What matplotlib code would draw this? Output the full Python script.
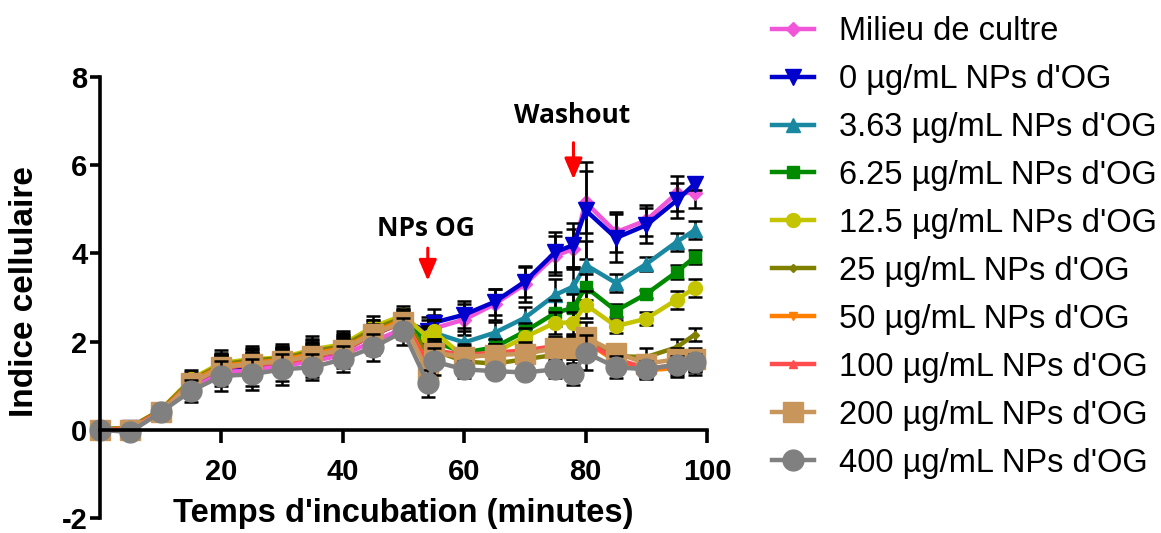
import matplotlib
matplotlib.use("Agg")
import matplotlib.pyplot as plt
import numpy as np

plt.rcParams["font.family"] = ["Liberation Sans", "DejaVu Sans"]
plt.rcParams["axes.unicode_minus"] = False

# time points (minutes)
t = [0, 5, 10, 15, 20, 25, 30, 35, 40, 45, 50, 54, 55,
     60, 65, 70, 75, 78, 80, 85, 90, 95, 98]

milieu = [0, 0.05, 0.40, 1.00, 1.30, 1.35, 1.45, 1.55, 1.70, 2.00, 2.30, 2.20, 2.30,
          2.50, 2.85, 3.30, 3.95, 4.10, 5.16, 4.48, 4.75, 5.36, 5.38]
c0 = [0, 0.05, 0.42, 1.05, 1.40, 1.45, 1.55, 1.65, 1.80, 2.15, 2.45, 2.25, 2.43,
      2.61, 2.90, 3.36, 4.03, 4.19, 4.98, 4.35, 4.64, 5.20, 5.58]
c363 = [0, 0.05, 0.42, 1.05, 1.40, 1.50, 1.55, 1.70, 1.85, 2.20, 2.50, 2.00, 2.20,
        1.98, 2.20, 2.54, 3.06, 3.25, 3.74, 3.33, 3.76, 4.26, 4.53]
c625 = [0, 0.05, 0.43, 1.10, 1.45, 1.55, 1.60, 1.75, 1.90, 2.25, 2.55, 1.90, 2.00,
        1.75, 1.87, 2.23, 2.65, 2.77, 3.24, 2.70, 3.08, 3.58, 3.92]
c125 = [0, 0.06, 0.45, 1.15, 1.52, 1.60, 1.64, 1.82, 1.94, 2.34, 2.60, 2.10, 2.23,
        1.65, 1.75, 2.10, 2.43, 2.43, 2.84, 2.35, 2.52, 2.95, 3.22]
c25 = [0, 0.05, 0.45, 1.12, 1.48, 1.58, 1.62, 1.78, 1.90, 2.28, 2.55, 1.70, 1.80,
       1.55, 1.50, 1.60, 1.70, 1.75, 2.00, 1.67, 1.65, 1.87, 2.16]
c50 = [0, 0.03, 0.42, 1.08, 1.45, 1.52, 1.58, 1.72, 1.85, 2.20, 2.50, 1.50, 1.75,
       1.65, 1.70, 1.75, 1.85, 1.85, 2.00, 1.55, 1.35, 1.40, 1.45]
c100 = [0, 0.03, 0.42, 1.05, 1.40, 1.48, 1.52, 1.65, 1.80, 2.15, 2.45, 1.50, 1.80,
        1.70, 1.75, 1.80, 1.90, 1.90, 2.00, 1.60, 1.40, 1.45, 1.50]
c200 = [0, 0.00, 0.40, 1.05, 1.42, 1.50, 1.55, 1.68, 1.82, 2.18, 2.45, 1.30, 1.75,
        1.65, 1.70, 1.72, 1.85, 1.85, 2.10, 1.75, 1.50, 1.60, 1.60]
c400 = [0, -0.05, 0.40, 0.88, 1.22, 1.26, 1.37, 1.42, 1.60, 1.87, 2.23, 1.05, 1.55,
        1.37, 1.33, 1.30, 1.37, 1.26, 1.75, 1.42, 1.37, 1.48, 1.53]

e_milieu = [0.02, 0.05, 0.10, 0.25, 0.30, 0.35, 0.35, 0.35, 0.30, 0.30, 0.25, 0.30, 0.30,
            0.35, 0.35, 0.40, 0.45, 0.45, 0.70, 0.45, 0.35, 0.40, 0.35]
e0 = [0.02, 0.05, 0.10, 0.20, 0.30, 0.30, 0.30, 0.30, 0.30, 0.25, 0.20, 0.30, 0.30,
      0.30, 0.30, 0.35, 0.45, 0.50, 1.10, 0.55, 0.40, 0.40, 0.15]
e363 = [0.02, 0.05, 0.10, 0.20, 0.30, 0.30, 0.30, 0.30, 0.30, 0.25, 0.20, 0.30, 0.30,
        0.25, 0.25, 0.25, 0.35, 0.45, 0.55, 0.20, 0.15, 0.20, 0.20]
e625 = [0.02, 0.05, 0.10, 0.20, 0.30, 0.30, 0.30, 0.30, 0.30, 0.25, 0.20, 0.25, 0.25,
        0.20, 0.20, 0.20, 0.30, 0.30, 0.30, 0.15, 0.10, 0.15, 0.15]
e125 = [0.02, 0.05, 0.10, 0.20, 0.30, 0.30, 0.30, 0.30, 0.30, 0.25, 0.20, 0.25, 0.25,
        0.20, 0.20, 0.20, 0.25, 0.25, 0.30, 0.15, 0.15, 0.20, 0.20]
e25 = [0.02, 0.05, 0.10, 0.15, 0.25, 0.25, 0.25, 0.25, 0.25, 0.20, 0.20, 0.25, 0.25,
       0.20, 0.20, 0.20, 0.20, 0.25, 0.30, 0.20, 0.20, 0.20, 0.15]
e50 = [0.02, 0.05, 0.10, 0.15, 0.25, 0.25, 0.25, 0.25, 0.25, 0.20, 0.20, 0.25, 0.25,
       0.20, 0.20, 0.20, 0.20, 0.25, 0.30, 0.20, 0.20, 0.20, 0.20]
e100 = [0.02, 0.05, 0.10, 0.15, 0.25, 0.25, 0.25, 0.25, 0.25, 0.20, 0.20, 0.25, 0.25,
        0.20, 0.20, 0.20, 0.20, 0.25, 0.30, 0.20, 0.20, 0.20, 0.20]
e200 = [0.02, 0.05, 0.10, 0.15, 0.25, 0.25, 0.25, 0.25, 0.25, 0.20, 0.20, 0.25, 0.25,
        0.20, 0.20, 0.20, 0.25, 0.25, 0.35, 0.20, 0.15, 0.25, 0.25]
e400 = [0.02, 0.05, 0.10, 0.25, 0.35, 0.35, 0.35, 0.30, 0.30, 0.30, 0.30, 0.30, 0.30,
        0.20, 0.15, 0.15, 0.20, 0.25, 0.40, 0.25, 0.20, 0.20, 0.20]

labels = ["Milieu de cultre", "0 µg/mL NPs d'OG", "3.63 µg/mL NPs d'OG",
          "6.25 µg/mL NPs d'OG", "12.5 µg/mL NPs d'OG", "25 µg/mL NPs d'OG",
          "50 µg/mL NPs d'OG", "100 µg/mL NPs d'OG", "200 µg/mL NPs d'OG",
          "400 µg/mL NPs d'OG"]
series = [milieu, c0, c363, c625, c125, c25, c50, c100, c200, c400]
errors = [e_milieu, e0, e363, e625, e125, e25, e50, e100, e200, e400]
colors = ["#F155D8", "#0000CC", "#1A88A0", "#008A00", "#C4C400", "#808000",
          "#FF7F00", "#FF4D4D", "#C8965A", "#808080"]
markers = ["D", "v", "^", "s", "o", "D", "v", "^", "s", "o"]
msizes = [7, 11, 10, 9, 10, 4, 6, 6, 14, 15]

fig = plt.figure(figsize=(11.61, 5.33), dpi=100)
ax = fig.add_axes([100 / 1161, 15 / 533, 607 / 1161, 441 / 533])

handles = []
for y, e, c, m, ms, lab in zip(series, errors, colors, markers, msizes, labels):
    ax.errorbar(t, y, yerr=e, fmt="none", ecolor="black", elinewidth=1.8,
                capsize=5, capthick=1.8, clip_on=False)
    h, = ax.plot(t, y, color=c, marker=m, markersize=ms, linewidth=3.2,
                 label=lab, clip_on=False)
    handles.append(h)

ax.set_xlim(0, 100)
ax.set_ylim(-2, 8)
ax.set_xticks([20, 40, 60, 80, 100])
ax.set_yticks([-2, 0, 2, 4, 6, 8])

ax.spines["top"].set_visible(False)
ax.spines["right"].set_visible(False)
ax.spines["bottom"].set_position(("data", 0))
for s in ["left", "bottom"]:
    ax.spines[s].set_linewidth(2.6)
ax.tick_params(axis="both", direction="out", width=2.6, labelsize=21)
ax.tick_params(axis="x", length=9, pad=11)
ax.tick_params(axis="y", length=7, pad=2)
for lbl in ax.get_xticklabels() + ax.get_yticklabels():
    lbl.set_fontweight("bold")

ax.set_xlabel("Temps d'incubation (minutes)", fontsize=23.5, fontweight="bold", va="center")
ax.xaxis.set_label_coords(0.5, 0.011)
ax.set_ylabel("Indice cellulaire", fontsize=24, fontweight="bold", va="center")
ax.yaxis.set_label_coords(-0.124, 0.514)

# annotations
ax.text(53.7, 4.57, "NPs OG", fontsize=19, fontweight="bold", family="Open Sans",
        ha="center", va="center")
ax.text(77.7, 7.12, "Washout", fontsize=19, fontweight="bold", family="Open Sans",
        ha="center", va="center")
arrow = dict(arrowstyle="-|>,head_width=0.3,head_length=0.7", color="red", lw=2.2,
             mutation_scale=18, shrinkA=0, shrinkB=0)
ax.annotate("", xy=(54, 3.38), xytext=(54, 4.12), arrowprops=arrow)
ax.annotate("", xy=(78, 5.68), xytext=(78, 6.51), arrowprops=arrow)

fig.legend(handles=handles, loc="upper left", bbox_to_anchor=(772 / 1161, 0.97),
           frameon=False, fontsize=23.5, borderpad=0, borderaxespad=0,
           labelspacing=0.52, handlelength=1.3, handletextpad=0.76)

fig.savefig("out.png", dpi=100)
